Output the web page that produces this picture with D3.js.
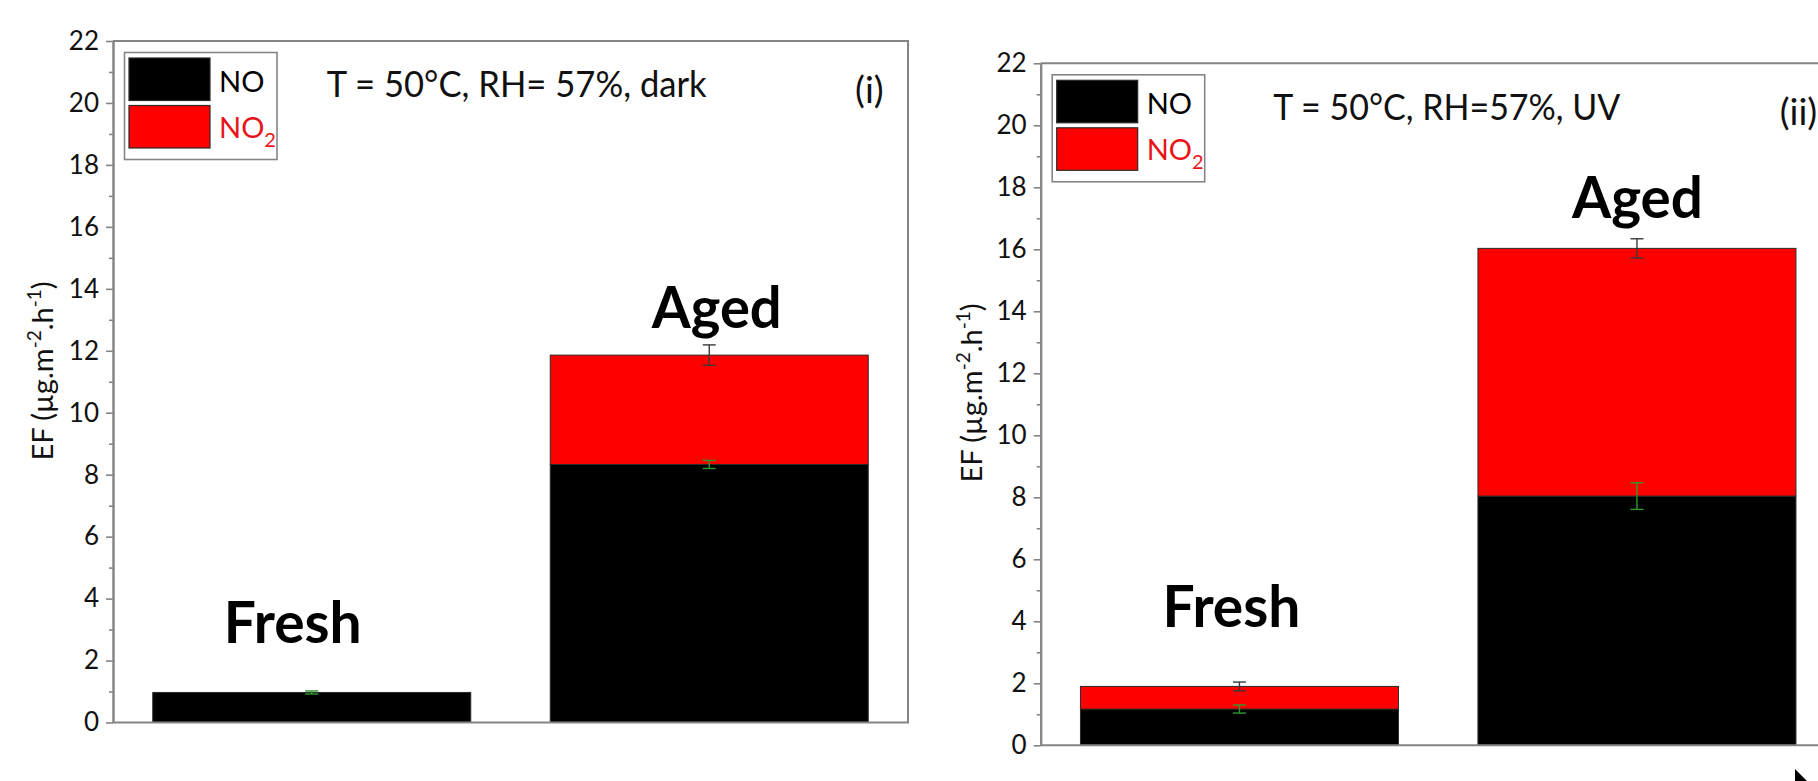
<!DOCTYPE html>
<html>
<head>
<meta charset="utf-8">
<script src="https://cdn.jsdelivr.net/npm/d3@7/dist/d3.min.js"></script>
<style>
  html, body { margin: 0; padding: 0; background: #fff; }
  svg { display: block; }
  text { font-family: Lato, "Open Sans", "DejaVu Sans", sans-serif; }
</style>
</head>
<body>
<svg id="chart" width="1818" height="781"></svg>
<script>
// ---- data ----
const categories = ["Fresh", "Aged"];
const seriesNames = ["NO", "NO2"];

// Panel (i): 50 °C, RH 57 %, dark
const darkNO = [0.97, 8.33];
const darkNO2 = [0.0, 3.53];
const darkNOErr = [0.05, 0.13];
const darkTotalErr = [0.0, 0.33];

// Panel (ii): 50 °C, RH 57 %, UV
const uvNO = [1.17, 8.04];
const uvNO2 = [0.73, 7.99];
const uvNOErr = [0.13, 0.43];
const uvTotalErr = [0.14, 0.31];

const yMajorTicks = [0, 2, 4, 6, 8, 10, 12, 14, 16, 18, 20, 22];
const yMinorTicks = [1, 3, 5, 7, 9, 11, 13, 15, 17, 19, 21];

const colors = { NO: "#000000", NO2: "#ff0000" };
const axisGray = "#858585";

const svg = d3.select("#chart");
svg.append("rect").attr("width", 1818).attr("height", 781).attr("fill", "#fff");

function drawPanel(cfg) {
  const { left, right, top, bottom } = cfg.box;
  const g = svg.append("g");

  const x = d3.scaleBand()
    .domain(categories)
    .range([left, right])
    .paddingInner(0.2)
    .paddingOuter(0.1);
  const y = d3.scaleLinear().domain([0, 22]).range([bottom, top]);

  // stacked series
  const rows = categories.map((c, i) => ({ cat: c, NO: cfg.no[i], NO2: cfg.no2[i] }));
  const stacked = d3.stack().keys(seriesNames)(rows);

  g.selectAll("g.series")
    .data(stacked)
    .join("g")
    .attr("class", "series")
    .attr("fill", d => colors[d.key])
    .selectAll("rect")
    .data(d => d.filter(s => s[1] - s[0] > 0))
    .join("rect")
    .attr("x", d => x(d.data.cat))
    .attr("width", x.bandwidth())
    .attr("y", d => y(d[1]))
    .attr("height", d => y(d[0]) - y(d[1]))
    .attr("stroke", "#2a2a2a")
    .attr("stroke-width", 1);

  // error bars: NO (green) at the NO level, total (dark) at the stack top
  const errs = [];
  categories.forEach((c, i) => {
    const tot = cfg.no[i] + cfg.no2[i];
    if (cfg.totErr[i] > 0) errs.push({ cat: c, v: tot, e: cfg.totErr[i], color: "#3a3a3a" });
    if (cfg.noErr[i] > 0) errs.push({ cat: c, v: cfg.no[i], e: cfg.noErr[i], color: "#2e9a2e" });
  });
  const cap = 6.5;
  const eg = g.selectAll("g.err").data(errs).join("g").attr("class", "err")
    .attr("stroke", d => d.color).attr("stroke-width", 1.4).attr("fill", "none");
  eg.append("line")
    .attr("x1", d => x(d.cat) + x.bandwidth() / 2).attr("x2", d => x(d.cat) + x.bandwidth() / 2)
    .attr("y1", d => y(d.v + d.e)).attr("y2", d => y(d.v - d.e));
  eg.append("line")
    .attr("x1", d => x(d.cat) + x.bandwidth() / 2 - cap).attr("x2", d => x(d.cat) + x.bandwidth() / 2 + cap)
    .attr("y1", d => y(d.v + d.e)).attr("y2", d => y(d.v + d.e));
  eg.append("line")
    .attr("x1", d => x(d.cat) + x.bandwidth() / 2 - cap).attr("x2", d => x(d.cat) + x.bandwidth() / 2 + cap)
    .attr("y1", d => y(d.v - d.e)).attr("y2", d => y(d.v - d.e));

  // frame: top, right and bottom lines
  g.append("path")
    .attr("d", `M${left},${top}H${right}V${bottom}H${left}`)
    .attr("fill", "none").attr("stroke", axisGray).attr("stroke-width", 2);

  // y axis: minor ticks then major ticks with labels
  const minor = g.append("g").attr("transform", `translate(${left},0)`)
    .call(d3.axisLeft(y).tickValues(yMinorTicks).tickSize(4).tickSizeOuter(0).tickFormat(""));
  const major = g.append("g").attr("transform", `translate(${left},0)`)
    .call(d3.axisLeft(y).tickValues(yMajorTicks).tickSize(7).tickSizeOuter(0).tickPadding(7));
  [minor, major].forEach(ax => {
    ax.select(".domain").attr("stroke", axisGray).attr("stroke-width", 2);
    ax.selectAll(".tick line").attr("stroke", axisGray).attr("stroke-width", 1.6);
  });
  major.selectAll(".tick text")
    .attr("font-size", 26).attr("fill", "#111")
    .style("font-family", "Lato, 'Open Sans', sans-serif");

  // y axis title with superscripts
  const yl = g.append("text")
    .attr("transform", `translate(${cfg.yLabel.x},${cfg.yLabel.y}) rotate(-90)`)
    .attr("text-anchor", "middle")
    .attr("font-size", 29).attr("fill", "#111");
  yl.append("tspan").text("EF (µg.m");
  yl.append("tspan").attr("dy", -12).attr("font-size", 19).text("-2");
  yl.append("tspan").attr("dy", 12).text(".h");
  yl.append("tspan").attr("dy", -12).attr("font-size", 19).text("-1");
  yl.append("tspan").attr("dy", 12).text(")");

  // legend
  const lg = g.append("g").attr("transform", `translate(${left + 11.5},${top + 11.5})`);
  lg.append("rect").attr("width", 152.5).attr("height", 107)
    .attr("fill", "#fff").attr("stroke", axisGray).attr("stroke-width", 1.6);
  seriesNames.forEach((s, i) => {
    lg.append("rect")
      .attr("x", 4.5).attr("y", 5.5 + i * 47.5)
      .attr("width", 81).attr("height", 42.5)
      .attr("fill", colors[s]).attr("stroke", "#2a2a2a").attr("stroke-width", 1.2);
  });
  lg.append("text").attr("x", 94.5).attr("y", 39.5).attr("font-size", 29).attr("fill", "#000").text("NO");
  const t2 = lg.append("text").attr("x", 94.5).attr("y", 85).attr("font-size", 29).attr("fill", "#e8141a");
  t2.append("tspan").text("NO");
  t2.append("tspan").attr("dy", 9).attr("font-size", 20).text("2");

  // condition caption and panel tag
  g.append("text")
    .attr("x", left + cfg.title.dx).attr("y", y(cfg.title.v))
    .attr("font-size", 37).attr("fill", "#111")
    .attr("textLength", cfg.title.w).attr("lengthAdjust", "spacingAndGlyphs")
    .text(cfg.title.text);
  g.append("text")
    .attr("x", left + cfg.tag.dx).attr("y", y(cfg.tag.v))
    .attr("font-size", 37).attr("fill", "#111")
    .text(cfg.tag.text);

  // sample labels above the bars
  cfg.labels.forEach((lab, i) => {
    g.append("text")
      .attr("x", x(categories[i]) + x.bandwidth() / 2 + lab.dx)
      .attr("y", y(lab.v))
      .attr("text-anchor", "middle")
      .attr("font-size", 58).attr("font-weight", 700).attr("fill", "#000")
      .attr("textLength", lab.w).attr("lengthAdjust", "spacingAndGlyphs")
      .text(categories[i]);
  });
}

drawPanel({
  box: { left: 113, right: 908, top: 41, bottom: 722.5 },
  no: darkNO, no2: darkNO2, noErr: darkNOErr, totErr: darkTotalErr,
  yLabel: { x: 53, y: 371 },
  title: { text: "T = 50°C, RH= 57%, dark", dx: 213.7, v: 20.18, w: 380 },
  tag: { text: "(i)", dx: 742, v: 20.0 },
  labels: [ { dx: -19, v: 2.58, w: 138 }, { dx: 7.5, v: 12.72, w: 130 } ]
});

drawPanel({
  box: { left: 1040.7, right: 1835.7, top: 63.3, bottom: 745.3 },
  no: uvNO, no2: uvNO2, noErr: uvNOErr, totErr: uvTotalErr,
  yLabel: { x: 982, y: 393 },
  title: { text: "T = 50°C, RH=57%, UV", dx: 232.6, v: 20.17, w: 347 },
  tag: { text: "(ii)", dx: 739, v: 20.0 },
  labels: [ { dx: -8, v: 3.83, w: 138 }, { dx: 0.5, v: 17.01, w: 131 } ]
});

// mouse pointer glyph in the lower right corner
svg.append("path")
  .attr("transform", "translate(1795,769)")
  .attr("d", "M0,0 L0,17 L4,13 L7,20 L10,19 L7,12 L12,12 Z")
  .attr("fill", "#000");
</script>
</body>
</html>
